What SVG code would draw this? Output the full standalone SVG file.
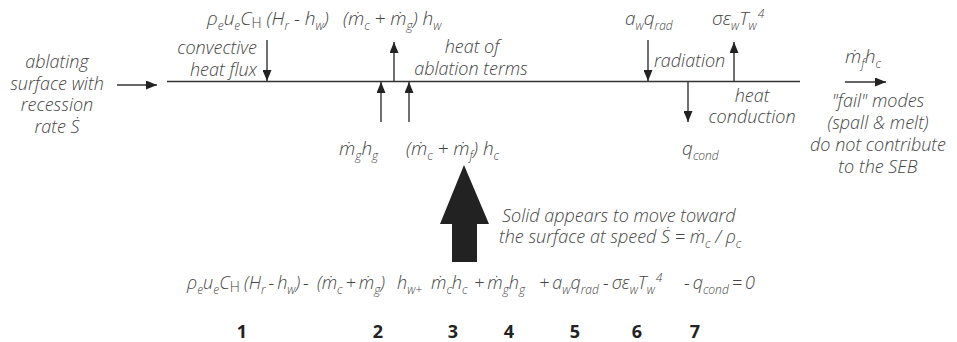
<svg xmlns="http://www.w3.org/2000/svg" width="957" height="342" viewBox="0 0 957 342">
<defs>
<style>
.t{font-family:"Open Sans","Liberation Sans",sans-serif;font-style:italic;font-weight:300;font-size:18px;fill:#444}
.m{font-family:"Open Sans","Liberation Sans",sans-serif;font-style:italic;font-weight:300;font-size:19px;fill:#444}
.q{font-size:18px}
.s{font-size:12px}
.u{font-style:normal;font-size:14px}
.n{font-family:"Open Sans","Liberation Sans",sans-serif;font-weight:700;font-size:18px;fill:#222;text-anchor:middle}
.c{text-anchor:middle}
.e{text-anchor:end}
.ln{stroke:#333;stroke-width:1.4;fill:none}
.ar{stroke:#333;stroke-width:1.4;fill:none;marker-end:url(#ah)}
</style>
<marker id="ah" markerUnits="userSpaceOnUse" markerWidth="11" markerHeight="9" refX="11" refY="4.5" orient="auto">
<path d="M0,0 L11,4.5 L0,9 z" fill="#222"/>
</marker>
</defs>
<rect width="957" height="342" fill="#fff"/>

<g id="surface">
<line class="ln" x1="167" y1="81.5" x2="800" y2="81.5"/>
</g>

<g id="connectors">
<line class="ar" x1="117" y1="85" x2="157" y2="85"/>
<line class="ar" x1="267" y1="40" x2="267" y2="81"/>
<line class="ar" x1="394" y1="81" x2="394" y2="42"/>
<line class="ar" x1="381" y1="122" x2="381" y2="82"/>
<line class="ar" x1="409" y1="122" x2="409" y2="82"/>
<line class="ar" x1="648" y1="40" x2="648" y2="81"/>
<line class="ar" x1="734" y1="81" x2="734" y2="42"/>
<line class="ar" x1="688" y1="82" x2="688" y2="122"/>
<line class="ar" x1="845" y1="82" x2="886" y2="82"/>
<polygon points="464,165 489,224 477,224 477,262 452,262 452,224 440,224" fill="#222"/>
</g>

<g id="ablating-surface">
<text class="t c" x="57" y="68">ablating</text>
<text class="t c" x="57" y="90">surface with</text>
<text class="t c" x="57" y="111">recession</text>
<text class="t c" x="57" y="133">rate Ṡ</text>
</g>

<g id="convective">
<text class="m" x="207" y="25">ρ<tspan class="s" dy="5">e</tspan><tspan dy="-5">u</tspan><tspan class="s" dy="5">e</tspan><tspan dy="-5">C</tspan><tspan class="u" dy="3">H</tspan><tspan dy="-3"> (H</tspan><tspan class="s" dy="5">r</tspan><tspan dy="-5"> - h</tspan><tspan class="s" dy="5">w</tspan><tspan dy="-5">)</tspan></text>
<text class="t e" x="257" y="54">convective</text>
<text class="t e" x="257" y="76">heat flux</text>
</g>

<g id="ablation">
<text class="m" x="343" y="25">(ṁ<tspan class="s" dy="5">c</tspan><tspan dy="-5"> + ṁ</tspan><tspan class="s" dy="5">g</tspan><tspan dy="-5">) h</tspan><tspan class="s" dy="5">w</tspan></text>
<text class="t c" x="472" y="53">heat of</text>
<text class="t c" x="471" y="75">ablation terms</text>
<text class="m" x="339" y="155">ṁ<tspan class="s" dy="5">g</tspan><tspan dy="-5">h</tspan><tspan class="s" dy="5">g</tspan></text>
<text class="m" x="406" y="155">(ṁ<tspan class="s" dy="5">c</tspan><tspan dy="-5"> + ṁ</tspan><tspan class="s" dy="5">f</tspan><tspan dy="-5">) h</tspan><tspan class="s" dy="5">c</tspan></text>
</g>

<g id="radiation">
<text class="m" x="625" y="25">a<tspan class="s" dy="5">w</tspan><tspan dy="-5">q</tspan><tspan class="s" dy="5">rad</tspan></text>
<text class="t" x="654" y="67">radiation</text>
<text class="m" x="712" y="25">σε<tspan class="s" dy="5">w</tspan><tspan dy="-5">T</tspan><tspan class="s" dy="5">w</tspan><tspan class="s" dx="1" dy="-12">4</tspan></text>
</g>

<g id="conduction">
<text class="t c" x="752" y="102">heat</text>
<text class="t c" x="752" y="123">conduction</text>
<text class="m" x="682" y="155">q<tspan class="s" dy="5">cond</tspan></text>
</g>

<g id="fail-modes">
<text class="m" x="845" y="63">ṁ<tspan class="s" dy="5">f</tspan><tspan dy="-5">h</tspan><tspan class="s" dy="5">c</tspan></text>
<text class="t c" x="878" y="107">"fail" modes</text>
<text class="t c" x="878" y="129">(spall &amp; melt)</text>
<text class="t c" x="878" y="151">do not contribute</text>
<text class="t c" x="878" y="173">to the SEB</text>
</g>

<g id="solid-motion">
<text class="t" x="502" y="222">Solid appears to move toward</text>
<text class="t" x="499" y="243">the surface at speed Ṡ = ṁ<tspan class="s" dy="5">c</tspan><tspan dy="-5"> / ρ</tspan><tspan class="s" dy="5">c</tspan></text>
</g>

<g id="equation">
<text class="m q" x="187" y="289">ρ<tspan class="s" dy="5">e</tspan><tspan dy="-5">u</tspan><tspan class="s" dy="5">e</tspan><tspan dy="-5">C</tspan><tspan class="u" dy="3">H</tspan></text>
<text class="m q" x="244" y="289">(H<tspan class="s" dy="5">r</tspan><tspan dy="-5" dx="3">-</tspan><tspan dx="3">h</tspan><tspan class="s" dy="5">w</tspan><tspan dy="-5">)</tspan><tspan dx="3">-</tspan></text>
<text class="m q" x="317" y="289">(ṁ<tspan class="s" dy="5">c</tspan><tspan dy="-5" dx="3">+</tspan><tspan dx="3">ṁ</tspan><tspan class="s" dy="5">g</tspan><tspan dy="-5">)</tspan></text>
<text class="m q" x="397" y="289">h<tspan class="s" dy="5">w+</tspan></text>
<text class="m q" x="431" y="289">ṁ<tspan class="s" dy="5">c</tspan><tspan dy="-5">h</tspan><tspan class="s" dy="5">c</tspan></text>
<text class="m q" x="474" y="289">+<tspan dx="3">ṁ</tspan><tspan class="s" dy="5">g</tspan><tspan dy="-5">h</tspan><tspan class="s" dy="5">g</tspan></text>
<text class="m q" x="539" y="289">+<tspan dx="3">a</tspan><tspan class="s" dy="5">w</tspan><tspan dy="-5">q</tspan><tspan class="s" dy="5">rad</tspan></text>
<text class="m q" x="603" y="289">-<tspan dx="3">σε</tspan><tspan class="s" dy="5">w</tspan><tspan dy="-5">T</tspan><tspan class="s" dy="5">w</tspan><tspan class="s" dx="1" dy="-12">4</tspan></text>
<text class="m q" x="684" y="289">-<tspan dx="3">q</tspan><tspan class="s" dy="5">cond</tspan><tspan dy="-5" dx="3">=</tspan><tspan dx="3">0</tspan></text>
</g>

<g id="term-numbers">
<text class="n" x="242" y="338">1</text>
<text class="n" x="378" y="338">2</text>
<text class="n" x="453" y="338">3</text>
<text class="n" x="509" y="338">4</text>
<text class="n" x="575" y="338">5</text>
<text class="n" x="637" y="338">6</text>
<text class="n" x="695" y="338">7</text>
</g>
</svg>
